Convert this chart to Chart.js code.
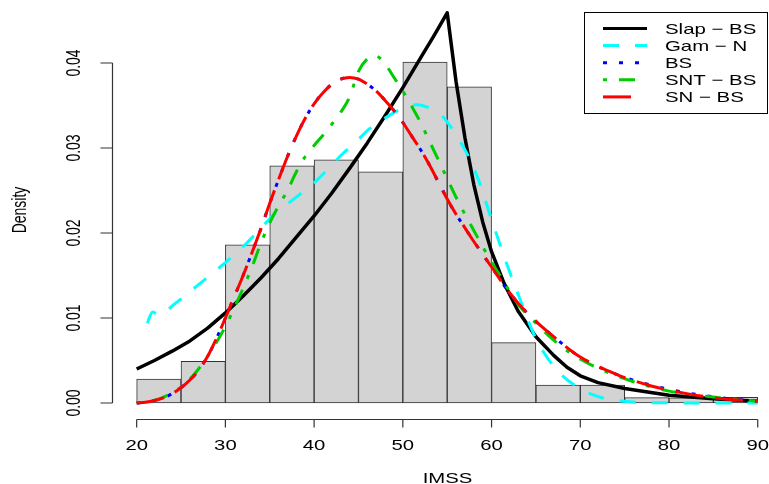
<!DOCTYPE html>
<html>
<head>
<meta charset="utf-8">
<script src="https://cdn.jsdelivr.net/npm/chart.js@4.4.1/dist/chart.umd.min.js"></script>
<style>
  html, body { margin: 0; padding: 0; background: #fff; }
  #wrap { width: 769px; height: 484px; }
</style>
</head>
<body>
<div id="wrap"><canvas id="chart" width="769" height="484"></canvas></div>
<script>
// histogram of IMSS, bins of width 5
var binMids = [22.5, 27.5, 32.5, 37.5, 42.5, 47.5, 52.5, 57.5, 62.5, 67.5, 72.5, 77.5, 82.5, 87.5];
var binDensity = [0.0028, 0.0049, 0.0186, 0.0279, 0.0286, 0.0272, 0.0401, 0.0372, 0.0071, 0.0021, 0.0021, 0.00063, 0.0006, 0.00068];

// fitted densities
var slapX = [20, 22, 24, 26, 28, 30, 32, 34, 36, 38, 40, 42, 44, 46, 48, 50, 52, 53.5, 55, 56, 57, 58, 59, 60, 61.4, 63, 65, 67, 68.5, 70, 72, 75, 80, 85, 90];
var slapY = [0.0040, 0.0050, 0.0061, 0.0073, 0.0088, 0.0106, 0.0126, 0.0147, 0.0170, 0.0195, 0.0220, 0.0247, 0.0276, 0.0306, 0.0338, 0.0371, 0.0406, 0.0432, 0.0459, 0.0378, 0.0312, 0.0257, 0.0213, 0.0178, 0.0141, 0.0108, 0.0078, 0.0056, 0.0042, 0.0032, 0.0024, 0.0017, 0.0009, 0.0005, 0.0002];

var gamX = [21.2, 21.8, 22.6, 24.1, 26.7, 29.4, 31.6, 33.5, 35.8, 37.6, 40.3, 43.3, 44.4, 46.3, 48.6, 50, 51.6, 53, 54.4, 55.9, 57.2, 58.4, 59.9, 61.7, 63.1, 64.9, 66.5, 68.1, 71.1, 74.9, 80, 85, 90];
var gamY = [0.0094, 0.0107, 0.0103, 0.0115, 0.0137, 0.0160, 0.0180, 0.0200, 0.0225, 0.0239, 0.0262, 0.0294, 0.0304, 0.0323, 0.0339, 0.0347, 0.0351, 0.0347, 0.0338, 0.0317, 0.0294, 0.0266, 0.0219, 0.0164, 0.0125, 0.0078, 0.0050, 0.0031, 0.0011, 0.0002, 0.00002, 0, 0];

var bsX = [20, 21, 22, 23, 24, 25, 26, 27, 28, 29, 30, 31, 32, 33, 34, 35, 36, 37, 38, 39, 40, 41, 42, 43, 44, 45, 46, 47, 48, 49, 50, 51, 52, 53, 54, 55, 56, 57, 58, 59, 60, 62, 64, 67, 70, 74, 78, 82, 86, 90];
var bsY = [0, 0.0001, 0.0003, 0.0006, 0.0011, 0.0018, 0.0027, 0.0039, 0.0055, 0.0076, 0.0100, 0.0125, 0.0150, 0.0177, 0.0205, 0.0235, 0.0263, 0.0290, 0.0314, 0.0335, 0.0352, 0.0365, 0.0375, 0.0381, 0.0383, 0.0381, 0.0375, 0.0367, 0.0356, 0.0344, 0.0330, 0.0314, 0.0298, 0.0280, 0.0260, 0.0240, 0.0222, 0.0206, 0.0190, 0.0175, 0.0160, 0.0130, 0.0106, 0.0078, 0.0054, 0.0034, 0.0021, 0.0012, 0.0006, 0.0002];

var sntX = [20, 22, 24, 26, 28, 30, 31, 32, 33, 34, 35, 36, 37, 38, 39, 40, 41, 42, 43, 44, 45, 46, 46.7, 47.5, 48, 49, 50, 51, 52, 53, 54, 55, 56, 57, 58, 59, 60, 61, 63, 65, 67, 69, 72, 76, 80, 85, 90];
var sntY = [0, 0.0003, 0.0012, 0.0028, 0.0055, 0.0090, 0.0112, 0.0135, 0.0160, 0.0188, 0.0212, 0.0232, 0.0250, 0.0272, 0.0290, 0.0303, 0.0315, 0.0328, 0.0342, 0.0360, 0.0390, 0.0405, 0.0409, 0.0405, 0.0399, 0.0383, 0.0367, 0.0349, 0.0330, 0.0308, 0.0286, 0.0264, 0.0242, 0.0222, 0.0203, 0.0184, 0.0166, 0.0149, 0.0116, 0.0094, 0.0074, 0.0058, 0.0041, 0.0025, 0.0014, 0.0007, 0.0002];

var snX = [20, 21, 22, 23, 24, 25, 26, 27, 28, 29, 30, 31, 32, 33, 34, 35, 36, 37, 38, 39, 40, 41, 42, 43, 44, 45, 46, 47, 48, 49, 50, 51, 52, 53, 54, 55, 56, 57, 58, 59, 60, 62, 64, 67, 70, 74, 78, 82, 86, 90];
var snY = [0, 0.0001, 0.0003, 0.0006, 0.0011, 0.0018, 0.0027, 0.0039, 0.0055, 0.0076, 0.0100, 0.0125, 0.0150, 0.0177, 0.0205, 0.0235, 0.0263, 0.0290, 0.0314, 0.0335, 0.0352, 0.0365, 0.0375, 0.0381, 0.0383, 0.0381, 0.0375, 0.0367, 0.0356, 0.0344, 0.0330, 0.0314, 0.0298, 0.0280, 0.0260, 0.0240, 0.0222, 0.0206, 0.0190, 0.0175, 0.0160, 0.0130, 0.0106, 0.0078, 0.0054, 0.0034, 0.0020, 0.0011, 0.0005, 0.0002];

var xTicks = [20, 30, 40, 50, 60, 70, 80, 90];
var yTicks = [0, 0.01, 0.02, 0.03, 0.04];
var yTickLabels = ["0.00", "0.01", "0.02", "0.03", "0.04"];
var legendLabels = ["Slap \u2212 BS", "Gam \u2212 N", "BS", "SNT \u2212 BS", "SN \u2212 BS"];

var FONT = '14px "Liberation Sans", Arial, sans-serif';
var LEGEND_FONT = '15px "Liberation Sans", Arial, sans-serif';
var STRETCH = 1.45;

function pts(xs, ys) {
  var out = [];
  for (var i = 0; i < xs.length; i++) out.push({ x: xs[i], y: ys[i] });
  return out;
}

function curve(label, xs, ys, color, dash, order, tension, width) {
  return {
    type: "line",
    label: label,
    data: pts(xs, ys),
    borderColor: color,
    borderWidth: width,
    borderDash: dash,
    borderCapStyle: "butt",
    borderJoinStyle: "round",
    pointRadius: 0,
    fill: false,
    tension: tension,
    cubicInterpolationMode: tension ? "monotone" : "default",
    order: order
  };
}

var datasets = [
  {
    type: "bar",
    label: "hist",
    data: pts(binMids, binDensity),
    backgroundColor: "#d3d3d3",
    borderColor: "#333",
    borderWidth: 1,
    borderSkipped: false,
    barPercentage: 1,
    categoryPercentage: 1,
    order: 10
  },
  curve(legendLabels[0], slapX, slapY, "#000000", [], 5, 0, 3.5),
  curve(legendLabels[1], gamX, gamY, "#00ffff", [16, 16], 4, 0.4, 3),
  curve(legendLabels[2], bsX, bsY, "#0000ff", [4, 12], 3, 0.4, 3),
  curve(legendLabels[3], sntX, sntY, "#00cd00", [4, 12, 16, 12], 2, 0.4, 3),
  curve(legendLabels[4], snX, snY, "#ff0000", [28, 12], 1, 0.4, 3)
];

function stretchedText(ctx, text, x, y, align, baseline, rotate, sx) {
  ctx.save();
  ctx.translate(x, y);
  ctx.scale(sx || STRETCH, 1);
  if (rotate) ctx.rotate(-Math.PI / 2);
  ctx.textAlign = align;
  ctx.textBaseline = baseline;
  ctx.fillText(text, 0, 0);
  ctx.restore();
}

var axesPlugin = {
  id: "rAxes",
  afterDraw: function (chart) {
    var ctx = chart.ctx;
    var xs = chart.scales.x;
    var ys = chart.scales.y;
    ctx.save();
    ctx.strokeStyle = "#333";
    ctx.lineWidth = 1.2;
    ctx.fillStyle = "#000";
    ctx.font = FONT;

    // x axis
    var ax = 419.5;
    ctx.beginPath();
    ctx.moveTo(xs.getPixelForValue(xTicks[0]), ax);
    ctx.lineTo(xs.getPixelForValue(xTicks[xTicks.length - 1]), ax);
    for (var i = 0; i < xTicks.length; i++) {
      var px = xs.getPixelForValue(xTicks[i]);
      ctx.moveTo(px, ax);
      ctx.lineTo(px, ax + 8);
    }
    ctx.stroke();
    for (var j = 0; j < xTicks.length; j++) {
      stretchedText(ctx, String(xTicks[j]), xs.getPixelForValue(xTicks[j]), 449.5, "center", "alphabetic", false);
    }
    stretchedText(ctx, "IMSS", 447.5, 482.5, "center", "alphabetic", false);

    // y axis
    var ay = 112.5;
    ctx.beginPath();
    ctx.moveTo(ay, ys.getPixelForValue(yTicks[0]));
    ctx.lineTo(ay, ys.getPixelForValue(yTicks[yTicks.length - 1]));
    for (var k = 0; k < yTicks.length; k++) {
      var py = ys.getPixelForValue(yTicks[k]);
      ctx.moveTo(ay, py);
      ctx.lineTo(ay - 12, py);
    }
    ctx.stroke();
    for (var m = 0; m < yTicks.length; m++) {
      stretchedText(ctx, yTickLabels[m], 80, ys.getPixelForValue(yTicks[m]), "center", "alphabetic", true);
    }
    stretchedText(ctx, "Density", 26, 210, "center", "alphabetic", true);

    // legend box
    ctx.strokeStyle = "#000";
    ctx.lineWidth = 1;
    ctx.strokeRect(584.5, 12.5, 183, 101);
    ctx.font = LEGEND_FONT;
    var colors = ["#000000", "#00ffff", "#0000ff", "#00cd00", "#ff0000"];
    var dashes = [[], [16, 16], [4, 12], [4, 12, 16, 12], [28, 16]];
    for (var n = 0; n < legendLabels.length; n++) {
      var ly = 28.5 + n * 17.1;
      ctx.save();
      ctx.strokeStyle = colors[n];
      ctx.lineWidth = 3;
      ctx.lineCap = "butt";
      ctx.setLineDash(dashes[n]);
      ctx.beginPath();
      ctx.moveTo(603, ly);
      ctx.lineTo(647, ly);
      ctx.stroke();
      ctx.restore();
      stretchedText(ctx, legendLabels[n], 665, ly + 5.5, "left", "alphabetic", false, 1.36);
    }
    ctx.restore();
  }
};

new Chart(document.getElementById("chart"), {
  data: { datasets: datasets },
  options: {
    responsive: false,
    animation: false,
    devicePixelRatio: 1,
    layout: { padding: { left: 112, right: 0, top: 0, bottom: 64 } },
    scales: {
      x: { type: "linear", min: 17.22, max: 91.27, offset: false, display: false },
      y: { type: "linear", min: -0.002, max: 0.04741, display: false }
    },
    plugins: { legend: { display: false }, tooltip: { enabled: false } }
  },
  plugins: [axesPlugin]
});
</script>
</body>
</html>
